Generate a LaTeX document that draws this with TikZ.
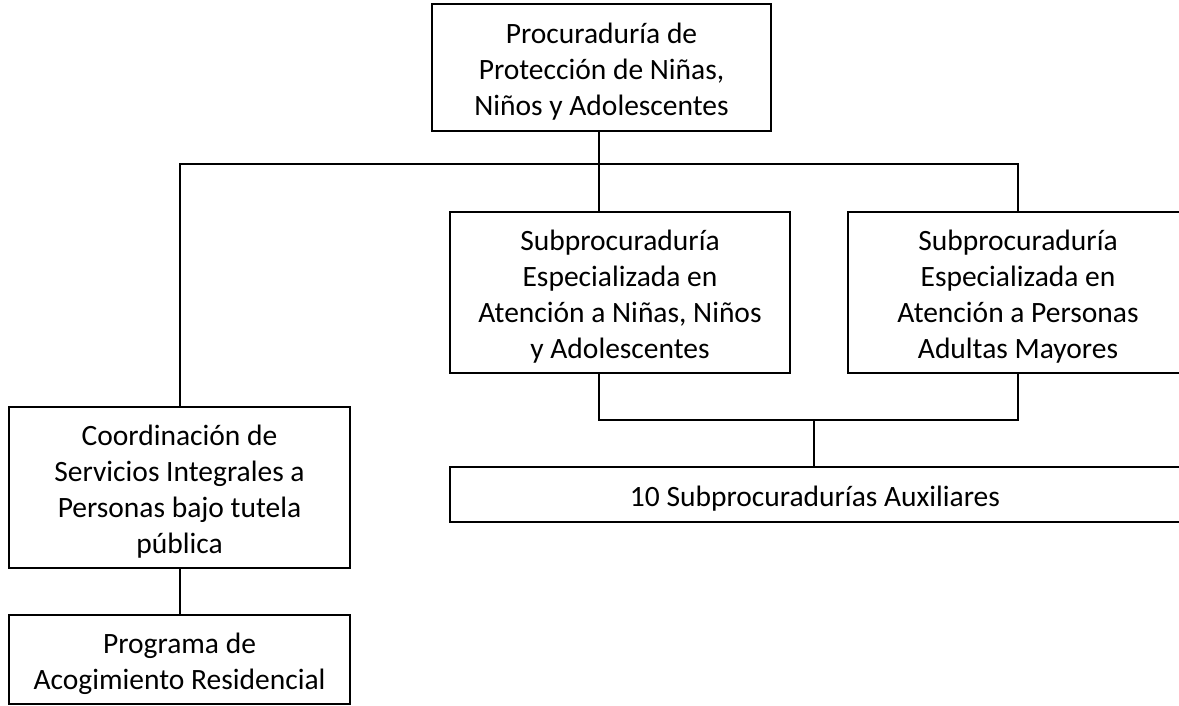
\documentclass[tikz,border=0pt]{standalone}
\usepackage{fontspec}
\setmainfont{Carlito}
\begin{document}
\begin{tikzpicture}[x=1pt,y=-1pt,
  box/.style={draw,line width=1.4pt,inner sep=0pt},
  txt/.style={inner sep=0pt,align=center,yshift=-4pt,
    font=\fontsize{29.5}{36}\selectfont},
  conn/.style={line width=1.4pt}]
\useasboundingbox (0,0) rectangle (1179,705);
\node[box,minimum width=339pt,minimum height=127pt,label={[txt]center:{Procuraduría de\\Protección de Niñas,\\Niños y Adolescentes}}] (top) at (601.5,67.5) {};
\node[box,minimum width=340pt,minimum height=161pt,label={[txt]center:{Subprocuraduría\\Especializada en\\Atención a Niñas, Niños\\y Adolescentes}}] (mid) at (620,292.5) {};
\node[box,minimum width=340pt,minimum height=161pt,label={[txt]center:{Subprocuraduría\\Especializada en\\Atención a Personas\\Adultas Mayores}}] (right) at (1018,292.5) {};
\node[box,minimum width=730pt,minimum height=55pt,label={[txt]center:{10 Subprocuradurías Auxiliares}}] (aux) at (815,494.5) {};
\node[box,minimum width=341pt,minimum height=161pt,label={[txt]center:{Coordinación de\\Servicios Integrales a\\Personas bajo tutela\\pública}}] (coord) at (179.5,487.5) {};
\node[box,minimum width=341pt,minimum height=89pt,label={[txt]center:{Programa de\\Acogimiento Residencial}}] (prog) at (179.5,659.5) {};
\coordinate (j) at (599,164);
\coordinate (jl) at (180,164);
\coordinate (jr) at (1018,164);
\coordinate (b) at (599,420);
\coordinate (bm) at (814,420);
\draw[conn] (top.south -| j) -- (mid.north -| j);
\draw[conn] (coord.north -| jl) -- (jl) -- (jr) -- (right.north);
\draw[conn] (mid.south -| b) -- (b) -- (b -| right.south) -- (right.south);
\draw[conn] (bm) -- (aux.north -| bm);
\draw[conn] (coord.south -| jl) -- (prog.north -| jl);
\end{tikzpicture}
\end{document}
